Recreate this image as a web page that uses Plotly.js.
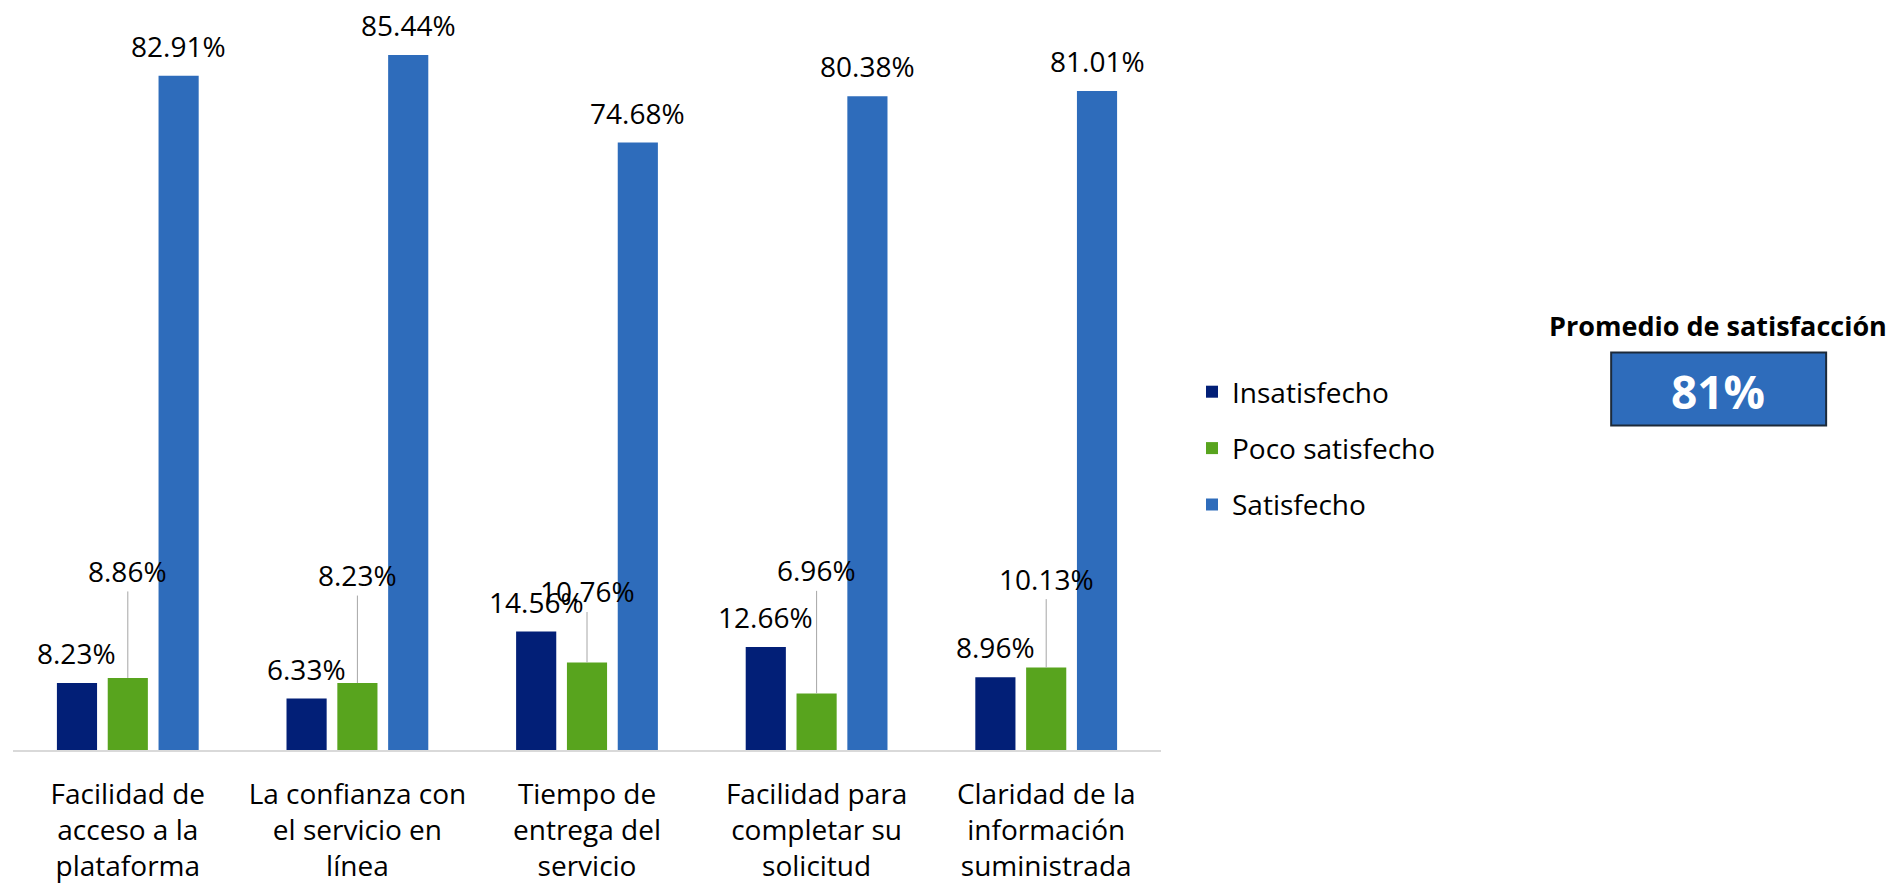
<!DOCTYPE html>
<html>
<head>
<meta charset="utf-8">
<script src="https://cdn.plot.ly/plotly-3.0.1.min.js"></script>
<style>html,body{margin:0;padding:0;background:#fff;}#chart{width:1895px;height:887px;}</style>
</head>
<body>
<div id="chart"></div>
<script>
const categories = [
  "Facilidad de<br>acceso a la<br>plataforma",
  "La confianza con<br>el servicio en<br>línea",
  "Tiempo de<br>entrega del<br>servicio",
  "Facilidad para<br>completar su<br>solicitud",
  "Claridad de la<br>información<br>suministrada"
];
const seriesNames = ["Insatisfecho", "Poco satisfecho", "Satisfecho"];
const insatisfecho = [8.23, 6.33, 14.56, 12.66, 8.96];
const pocoSatisfecho = [8.86, 8.23, 10.76, 6.96, 10.13];
const satisfecho = [82.91, 85.44, 74.68, 80.38, 81.01];
const summaryTitle = "Promedio de satisfacción";

// styling / layout (not data)
const colors = ["#021f77", "#58a41e", "#2e6cbb"];
const pocoLabelOffsets = [-107, -108, -71, -123, -89];
const FONT = "'Open Sans', 'Noto Sans', sans-serif";
const FS = 28;
const W = 1895, H = 887;
const plotL = 12.7, plotR = 1160.8, plotT = 18.4, plotB = 750.5;
const BARGAP = 0.336, BARGROUPGAP = 0.21;
const px2x = p => (p - plotL) / (plotR - plotL);
const px2y = p => (plotB - p) / (plotB - plotT);
const catWidthPx = (plotR - plotL) / categories.length;
const slotPx = catWidthPx * (1 - BARGAP) / seriesNames.length;

const avgSat = satisfecho.reduce((a, b) => a + b, 0) / satisfecho.length;

const mkTrace = (name, vals, color) => ({
  type: "bar",
  name: name,
  x: categories,
  y: vals,
  marker: {color: color},
  textposition: "none",
  cliponaxis: false,
  legendgroup: name,
  hoverinfo: "none"
});

const seriesVals = [insatisfecho, pocoSatisfecho, satisfecho];
const data = seriesVals.map((vals, k) => mkTrace(seriesNames[k], vals, colors[k]));

const annotations = [];
// labels directly above Insatisfecho and Satisfecho bars
[0, 2].forEach(k => {
  seriesVals[k].forEach((v, i) => {
    annotations.push({
      x: categories[i], y: v, xref: "x", yref: "y",
      xshift: (k - 1) * slotPx, yshift: 9,
      xanchor: "center", yanchor: "bottom",
      text: v.toFixed(2) + "%", showarrow: false,
      font: {family: FONT, size: FS, color: "#000"}
    });
  });
});
// Poco satisfecho labels with leader lines
pocoSatisfecho.forEach((v, i) => {
  annotations.push({
    x: categories[i], y: v, xref: "x", yref: "y",
    text: v.toFixed(2) + "%",
    showarrow: true, arrowhead: 0, arrowwidth: 1, arrowcolor: "#a6a6a6",
    ax: 0, ay: pocoLabelOffsets[i], standoff: 0,
    font: {family: FONT, size: FS, color: "#000"}
  });
});

annotations.push({
  xref: "paper", yref: "paper", x: px2x(1718), y: px2y(326),
  xanchor: "center", yanchor: "middle",
  text: "<b>" + summaryTitle + "</b>", showarrow: false,
  font: {family: FONT, size: 27, color: "#000"}
});
annotations.push({
  xref: "paper", yref: "paper", x: px2x(1718), y: px2y(391),
  xanchor: "center", yanchor: "middle",
  text: "<b>" + Math.round(avgSat) + "%</b>", showarrow: false,
  font: {family: FONT, size: 46, color: "#fff"}
});

const layout = {
  width: W, height: H,
  margin: {l: plotL, r: W - plotR, t: plotT, b: H - plotB, pad: 0},
  paper_bgcolor: "#fff", plot_bgcolor: "#fff",
  barmode: "group",
  bargap: BARGAP,
  bargroupgap: BARGROUPGAP,
  font: {family: FONT, size: FS, color: "#000"},
  xaxis: {
    showline: true, linecolor: "#d9d9d9", linewidth: 2,
    ticks: "", showgrid: false, zeroline: false,
    tickfont: {family: FONT, size: FS, color: "#000"},
    ticklabelstandoff: 18,
    automargin: false, fixedrange: true
  },
  yaxis: {
    range: [0, 90], visible: false, showgrid: false, zeroline: false,
    automargin: false, fixedrange: true
  },
  showlegend: true,
  legend: {
    xref: "container", yref: "container",
    x: 1192 / W, y: 1 - 367 / H, xanchor: "left", yanchor: "top",
    orientation: "v", traceorder: "grouped", tracegroupgap: 17,
    font: {family: FONT, size: FS, color: "#000"},
    bgcolor: "rgba(0,0,0,0)", borderwidth: 0
  },
  shapes: [{
    type: "rect", xref: "paper", yref: "paper",
    x0: px2x(1611), x1: px2x(1826), y0: px2y(426), y1: px2y(353),
    fillcolor: "#2e6cbb", line: {color: "#1c2a3a", width: 2}
  }],
  annotations: annotations
};

Plotly.newPlot("chart", data, layout, {displayModeBar: false, staticPlot: true});
</script>
</body>
</html>
